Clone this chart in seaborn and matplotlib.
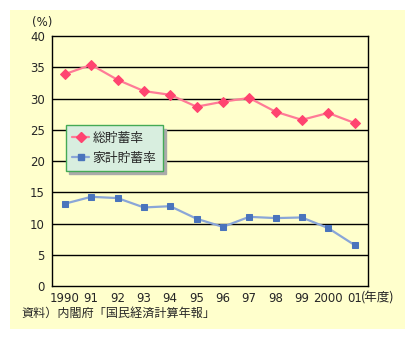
import matplotlib
matplotlib.use("Agg")
import matplotlib.pyplot as plt
import matplotlib.patches as mpatches
import seaborn as sns
import pandas as pd

years = ["1990", "91", "92", "93", "94", "95", "96", "97", "98", "99", "2000", "01"]
total_saving = [33.9, 35.4, 33.0, 31.2, 30.6, 28.7, 29.5, 30.1, 27.9, 26.6, 27.7, 26.1]
household_saving = [13.2, 14.3, 14.1, 12.6, 12.8, 10.8, 9.5, 11.1, 10.9, 11.0, 9.3, 6.6]
series_names = ["総貯蓄率", "家計貯蓄率"]
yticks = [0, 5, 10, 15, 20, 25, 30, 35, 40]

sns.set_style("white")
plt.rcParams["font.family"] = ["Noto Sans CJK JP", "DejaVu Sans"]

df = pd.DataFrame({
    "x": list(range(len(years))) * 2,
    "value": total_saving + household_saving,
    "series": [series_names[0]] * len(years) + [series_names[1]] * len(years),
})

W, H = 415, 339
fig = plt.figure(figsize=(W / 100, H / 100), dpi=100)
fig.patch.set_facecolor("white")
bg = "#ffffcc"
fig.patches.append(mpatches.Rectangle((10 / W, 1 - 329 / H), 395 / W, 319 / H,
                                      transform=fig.transFigure, facecolor=bg,
                                      edgecolor="none", zorder=-10))

ax = fig.add_axes([51.7 / W, 1 - 286.3 / H, 316 / W, 250.3 / H])
ax.set_zorder(5)
ax.set_facecolor(bg)

line_colors = {series_names[0]: "#ff7b97", series_names[1]: "#8aa6d8"}
sns.lineplot(data=df, x="x", y="value", hue="series", palette=line_colors,
             linewidth=1.6, ax=ax, legend=False)
# markers
mk = {series_names[0]: ("D", "#ff4470", 5.2), series_names[1]: ("s", "#4a74bc", 5.0)}
for name in series_names:
    sub = df[df.series == name]
    m, c, s = mk[name]
    sns.lineplot(data=sub, x="x", y="value", ax=ax, linestyle="none", marker=m,
                 markersize=s, markerfacecolor=c, markeredgecolor=c, color=c,
                 legend=False)

ax.set_xlim(-0.5, len(years) - 0.5)
ax.set_ylim(0, 40)
ax.set_yticks(yticks)
ax.set_yticklabels([str(v) for v in yticks], fontsize=8.5, family="DejaVu Sans")
ax.tick_params(axis="y", length=0, pad=5)
for v in yticks[1:-1]:
    ax.axhline(v, color="black", linewidth=1.0, zorder=1)

ax.set_xticks([i + 0.5 for i in range(len(years) - 1)])
ax.set_xticklabels([])
ax.tick_params(axis="x", which="major", direction="in", length=5, width=1, color="black")
ax.set_xticks(list(range(len(years))), minor=True)
ax.set_xticklabels(years, minor=True, fontsize=8.5, family="DejaVu Sans")
ax.tick_params(axis="x", which="minor", length=0, pad=4)
ax.set_xlabel("")
ax.set_ylabel("")
for sp in ax.spines.values():
    sp.set_color("black")
    sp.set_linewidth(1.0)

fig.text(361 / W, 1 - 298 / H, "(年度)", fontsize=9, va="center", ha="left")
fig.text(32 / W, 1 - 22.5 / H, "(%)", fontsize=8.5, va="center", ha="left",
         family="DejaVu Sans")
fig.text(21 / W, 1 - 313 / H, "資料）内閣府「国民経済計算年報」", fontsize=8.7,
         va="center", ha="left")

handles = [
    plt.Line2D([], [], color=line_colors[series_names[0]], linewidth=1.6, marker="D",
               markersize=5.2, markerfacecolor="#ff4470", markeredgecolor="#ff4470"),
    plt.Line2D([], [], color=line_colors[series_names[1]], linewidth=1.6, marker="s",
               markersize=5.0, markerfacecolor="#4a74bc", markeredgecolor="#4a74bc"),
]
leg = ax.legend(handles, series_names, loc="upper left",
                bbox_to_anchor=(0.045, 0.644), borderaxespad=0, fancybox=False,
                fontsize=9.2, framealpha=1, handlelength=1.3, handletextpad=0.3,
                borderpad=0.5, labelspacing=0.55,
                shadow={"ox": 2.5, "oy": -2.5, "color": "#aaaaaa", "alpha": 1})
leg.get_frame().set_facecolor("#d8eedf")
leg.get_frame().set_edgecolor("#44aa55")
leg.get_frame().set_linewidth(1.0)

fig.savefig("out.png", dpi=100, facecolor="white")
